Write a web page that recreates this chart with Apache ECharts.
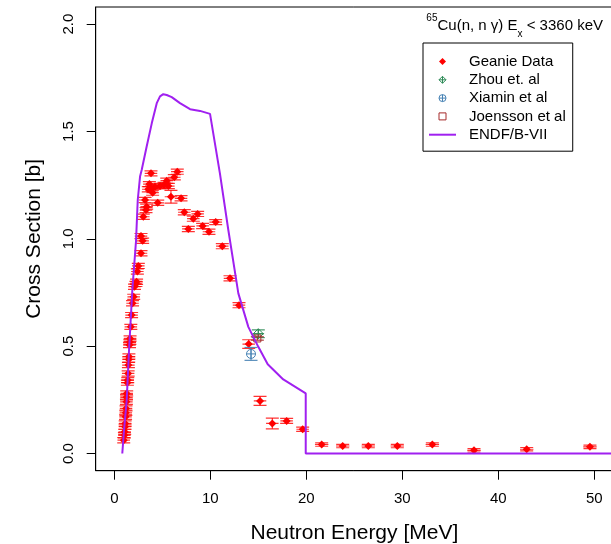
<!DOCTYPE html>
<html>
<head>
<meta charset="utf-8">
<script src="https://cdn.jsdelivr.net/npm/echarts@6/dist/echarts.min.js"></script>
<style>
html, body { margin: 0; padding: 0; background: #fff; }
#main { width: 611px; height: 544px; }
</style>
</head>
<body>
<div id="main"></div>
<script>
// Geanie data: neutron energy [MeV], cross section [b], and their errors
var geanieE = [0.98, 1.05, 1.08, 1.12, 1.13, 1.17, 1.20, 1.22, 1.26, 1.27, 1.29, 1.36, 1.40, 1.44, 1.47, 1.50,
    1.52, 1.58, 1.62, 1.64, 1.72, 1.80, 1.90, 2.02, 2.10, 2.25, 2.32, 2.40, 2.50, 2.78, 2.95, 2.78,
    3.02, 3.30, 3.37, 3.20, 3.54, 3.65, 3.90, 3.99, 3.82, 4.24, 4.52, 4.76, 5.18, 5.46, 5.63, 5.90,
    6.25, 6.56, 6.95, 7.29, 7.71, 8.23, 8.68, 9.20, 9.86, 10.56, 11.25, 12.05, 12.99, 14.00, 15.18, 16.46,
    17.95, 19.62, 21.60, 23.79, 26.46, 29.48, 33.13, 37.47, 42.96, 49.55];
var geanieXS = [0.062, 0.085, 0.101, 0.125, 0.140, 0.171, 0.190, 0.210, 0.241, 0.262, 0.280, 0.330, 0.342, 0.373, 0.412, 0.438,
    0.452, 0.505, 0.520, 0.536, 0.590, 0.645, 0.700, 0.730, 0.777, 0.790, 0.800, 0.848, 0.874, 0.933, 0.991, 1.013,
    1.103, 1.134, 1.150, 1.181, 1.231, 1.255, 1.235, 1.215, 1.305, 1.243, 1.168, 1.246, 1.251, 1.271, 1.246, 1.196,
    1.287, 1.313, 1.189, 1.124, 1.046, 1.094, 1.116, 1.060, 1.033, 1.078, 0.966, 0.816, 0.691, 0.510, 0.245, 0.140,
    0.152, 0.113, 0.042, 0.035, 0.035, 0.035, 0.042, 0.015, 0.020, 0.031];
var geanieDE = [0.65, 0.65, 0.65, 0.65, 0.65, 0.65, 0.65, 0.65, 0.65, 0.65, 0.65, 0.65, 0.65, 0.65, 0.65, 0.65,
    0.65, 0.65, 0.65, 0.65, 0.65, 0.65, 0.65, 0.65, 0.65, 0.65, 0.65, 0.65, 0.65, 0.65, 0.65, 0.65,
    0.65, 0.65, 0.65, 0.65, 0.65, 0.65, 0.65, 0.65, 0.65, 0.65, 0.65, 0.65, 0.65, 0.65, 0.65, 0.65,
    0.65, 0.65, 0.65, 0.65, 0.65, 0.65, 0.65, 0.65, 0.65, 0.65, 0.65, 0.65, 0.65, 0.65, 0.65, 0.65,
    0.65, 0.65, 0.70, 0.70, 0.70, 0.70, 0.70, 0.70, 0.70, 0.70];
var geanieDXS = [0.012, 0.012, 0.012, 0.012, 0.012, 0.012, 0.012, 0.012, 0.012, 0.012, 0.012, 0.012, 0.012, 0.012, 0.012, 0.012,
    0.012, 0.012, 0.012, 0.012, 0.012, 0.012, 0.012, 0.012, 0.012, 0.012, 0.012, 0.012, 0.012, 0.012, 0.012, 0.012,
    0.012, 0.012, 0.012, 0.012, 0.012, 0.012, 0.012, 0.012, 0.012, 0.012, 0.012, 0.012, 0.012, 0.012, 0.012, 0.030,
    0.012, 0.012, 0.012, 0.012, 0.012, 0.012, 0.012, 0.012, 0.012, 0.012, 0.012, 0.012, 0.012, 0.020, 0.021, 0.025,
    0.012, 0.010, 0.008, 0.008, 0.008, 0.008, 0.008, 0.008, 0.008, 0.008];

// other measurements
var zhouE = [15.0], zhouXS = [0.558], zhouDE = [0.6], zhouDXS = [0.018];
var xiaminE = [14.24], xiaminXS = [0.464], xiaminDE = [0], xiaminDXS = [0.03];
var joenssonE = [14.9], joenssonXS = [0.536], joenssonDE = [0], joenssonDXS = [0.008];

// ENDF/B-VII evaluation
var endfE = [0.83, 1.01, 1.29, 1.53, 1.875, 2.26, 2.44, 2.68, 2.85, 3.37, 3.90, 4.42, 4.76, 5.10, 5.46, 5.98,
    6.84, 7.89, 8.93, 9.97, 10.07, 11.0, 11.88, 12.92, 13.96, 15.0, 15.98, 17.6, 19.94, 19.94, 60];
var endfXS = [0, 0.109, 0.248, 0.48, 0.76, 0.99, 1.181, 1.29, 1.321, 1.43, 1.538, 1.632, 1.664, 1.674, 1.670, 1.660,
    1.632, 1.604, 1.596, 1.582, 1.577, 1.305, 1.04, 0.746, 0.59, 0.497, 0.416, 0.345, 0.28, 0, 0];

var xTicks = [0, 10, 20, 30, 40, 50];
var yTicks = [0, 0.5, 1.0, 1.5, 2.0];

var FONT = 'Liberation Sans, Arial, sans-serif';
var RED = '#ff0000', GREEN = '#2e8b57', BLUE = '#4682b4', BROWN = '#a52a2a', PURPLE = '#a020f0';

function rows(e, xs, de, dxs) {
    var out = [];
    for (let i = 0; i < e.length; i++) out.push([e[i], xs[i], de[i], dxs[i]]);
    return out;
}

// error bars (horizontal bar, vertical bar with wide caps) plus optional marker
function errorBars(color, alpha, marker) {
    return function (params, api) {
        var x = api.value(0), y = api.value(1), dx = api.value(2), dy = api.value(3);
        var c = api.coord([x, y]);
        var st = { stroke: color, lineWidth: 1.2, opacity: alpha };
        var ch = [];
        if (dx > 0) {
            var l = api.coord([x - dx, y]), r = api.coord([x + dx, y]);
            ch.push({ type: 'line', shape: { x1: l[0], y1: c[1], x2: r[0], y2: c[1] }, style: st });
        }
        if (dy > 0) {
            var t = api.coord([x, y + dy]), b = api.coord([x, y - dy]);
            ch.push({ type: 'line', shape: { x1: c[0], y1: t[1], x2: c[0], y2: b[1] }, style: st });
            ch.push({ type: 'line', shape: { x1: c[0] - 6.5, y1: t[1], x2: c[0] + 6.5, y2: t[1] }, style: st });
            ch.push({ type: 'line', shape: { x1: c[0] - 6.5, y1: b[1], x2: c[0] + 6.5, y2: b[1] }, style: st });
        }
        var ms = { stroke: color, fill: 'none', lineWidth: 1 };
        var cx = c[0], cy = c[1];
        if (marker === 'diamondPlus') {
            var r1 = 5;
            ch.push({ type: 'polygon', shape: { points: [[cx, cy - r1], [cx + r1, cy], [cx, cy + r1], [cx - r1, cy]] }, style: ms });
            ch.push({ type: 'line', shape: { x1: cx - r1, y1: cy, x2: cx + r1, y2: cy }, style: ms });
            ch.push({ type: 'line', shape: { x1: cx, y1: cy - r1, x2: cx, y2: cy + r1 }, style: ms });
        } else if (marker === 'circlePlus') {
            var r2 = 4.5;
            ch.push({ type: 'circle', shape: { cx: cx, cy: cy, r: r2 }, style: ms });
            ch.push({ type: 'line', shape: { x1: cx - r2, y1: cy, x2: cx + r2, y2: cy }, style: ms });
            ch.push({ type: 'line', shape: { x1: cx, y1: cy - r2, x2: cx, y2: cy + r2 }, style: ms });
        } else if (marker === 'square') {
            ch.push({ type: 'rect', shape: { x: cx - 3.5, y: cy - 3.5, width: 7, height: 7 }, style: ms });
        }
        return { type: 'group', children: ch };
    };
}

var ICON_DIAMOND = 'path://M0,-1L1,0L0,1L-1,0Z';
var ICON_DIAMOND_PLUS = 'path://M0,-1L1,0L0,1L-1,0ZM0,-1L0,1M-1,0L1,0';
var ICON_CIRCLE_PLUS = 'path://M-1,0A1,1,0,1,0,1,0A1,1,0,1,0,-1,0ZM-1,0L1,0M0,-1L0,1';
var ICON_SQUARE = 'path://M-1,-1L1,-1L1,1L-1,1Z';

var myChart = echarts.init(document.getElementById('main'));

var option = {
    animation: false,
    backgroundColor: '#fff',
    textStyle: { fontFamily: FONT },
    title: {
        text: '{sup|65}Cu(n, n γ) E{sub|x} < 3360 keV',
        right: 8,
        top: 13,
        padding: 0,
        textStyle: {
            fontFamily: FONT, fontSize: 15, fontWeight: 'normal', color: '#000', lineHeight: 26,
            rich: {
                sup: { fontSize: 10, lineHeight: 10, verticalAlign: 'top', fontFamily: FONT, color: '#000' },
                sub: { fontSize: 10, lineHeight: 16, verticalAlign: 'bottom', fontFamily: FONT, color: '#000' }
            }
        }
    },
    legend: {
        orient: 'vertical',
        left: 423,
        top: 43,
        padding: [11, 7, 9, 5],
        itemGap: 3.3,
        itemWidth: 27,
        itemHeight: 7,
        borderColor: '#000',
        borderWidth: 1,
        borderRadius: 0,
        backgroundColor: '#fff',
        selectedMode: false,
        textStyle: { fontFamily: FONT, fontSize: 15, lineHeight: 15, color: '#000', padding: [0, 0, 0, 8] },
        data: [
            { name: 'Geanie Data', icon: ICON_DIAMOND, itemStyle: { color: RED, borderWidth: 0 } },
            { name: 'Zhou et. al', icon: ICON_DIAMOND_PLUS, itemStyle: { color: 'transparent', borderColor: GREEN, borderWidth: 1 } },
            { name: 'Xiamin et al', icon: ICON_CIRCLE_PLUS, itemStyle: { color: 'transparent', borderColor: BLUE, borderWidth: 1 } },
            { name: 'Joensson et al', icon: ICON_SQUARE, itemStyle: { color: 'transparent', borderColor: BROWN, borderWidth: 1 } },
            {
                name: 'ENDF/B-VII',
                itemStyle: { color: 'transparent', borderColor: 'transparent', borderWidth: 0 },
                lineStyle: { color: PURPLE, width: 2, opacity: 1 }
            }
        ]
    },
    grid: {
        left: 95.7, top: 7, right: -2, bottom: 73.3,
        containLabel: false,
        outerBoundsMode: 'none',
        show: true, borderColor: '#000', borderWidth: 1, backgroundColor: 'transparent'
    },
    xAxis: {
        type: 'value',
        min: -1.94,
        max: 51.95,
        name: 'Neutron Energy [MeV]',
        nameLocation: 'middle',
        nameGap: 52,
        nameTextStyle: { fontFamily: FONT, fontSize: 21, color: '#000' },
        axisLine: { show: true, onZero: false, lineStyle: { color: '#000', width: 1 } },
        axisTick: { show: true, length: 9, lineStyle: { color: '#000' }, customValues: xTicks },
        axisLabel: { show: true, margin: 21, fontFamily: FONT, fontSize: 15, color: '#000', customValues: xTicks },
        splitLine: { show: false }
    },
    yAxis: {
        type: 'value',
        min: -0.08,
        max: 2.08,
        name: 'Cross Section [b]',
        nameLocation: 'middle',
        nameGap: 51,
        nameRotate: 90,
        nameTextStyle: { fontFamily: FONT, fontSize: 21, color: '#000' },
        axisLine: { show: true, onZero: false, lineStyle: { color: '#000', width: 1 } },
        axisTick: { show: true, length: 9, lineStyle: { color: '#000' }, customValues: yTicks },
        axisLabel: {
            show: true, margin: 19, rotate: 90, fontFamily: FONT, fontSize: 15, color: '#000',
            customValues: yTicks,
            formatter: function (v) { return v.toFixed(1); }
        },
        splitLine: { show: false }
    },
    series: [
        {
            name: 'Geanie errors',
            type: 'custom',
            renderItem: errorBars(RED, 0.8, null),
            data: rows(geanieE, geanieXS, geanieDE, geanieDXS),
            silent: true,
            clip: true,
            z: 2
        },
        {
            name: 'Geanie Data',
            type: 'scatter',
            symbol: 'diamond',
            symbolSize: 8,
            itemStyle: { color: RED, opacity: 1 },
            data: rows(geanieE, geanieXS, geanieDE, geanieDXS).map(function (d) { return [d[0], d[1]]; }),
            silent: true,
            z: 3
        },
        {
            name: 'Zhou et. al',
            type: 'custom',
            renderItem: errorBars(GREEN, 0.9, 'diamondPlus'),
            itemStyle: { color: GREEN },
            data: rows(zhouE, zhouXS, zhouDE, zhouDXS),
            silent: true,
            z: 4
        },
        {
            name: 'Xiamin et al',
            type: 'custom',
            renderItem: errorBars(BLUE, 0.9, 'circlePlus'),
            itemStyle: { color: BLUE },
            data: rows(xiaminE, xiaminXS, xiaminDE, xiaminDXS),
            silent: true,
            z: 4
        },
        {
            name: 'Joensson et al',
            type: 'custom',
            renderItem: errorBars(BROWN, 0.9, 'square'),
            itemStyle: { color: BROWN },
            data: rows(joenssonE, joenssonXS, joenssonDE, joenssonDXS),
            silent: true,
            z: 4
        },
        {
            name: 'ENDF/B-VII',
            type: 'line',
            symbol: 'none',
            showSymbol: false,
            lineStyle: { color: PURPLE, width: 2 },
            itemStyle: { color: PURPLE },
            data: endfE.map(function (e, i) { return [e, endfXS[i]]; }),
            silent: true,
            clip: true,
            z: 5
        }
    ]
};

myChart.setOption(option);
</script>
</body>
</html>
